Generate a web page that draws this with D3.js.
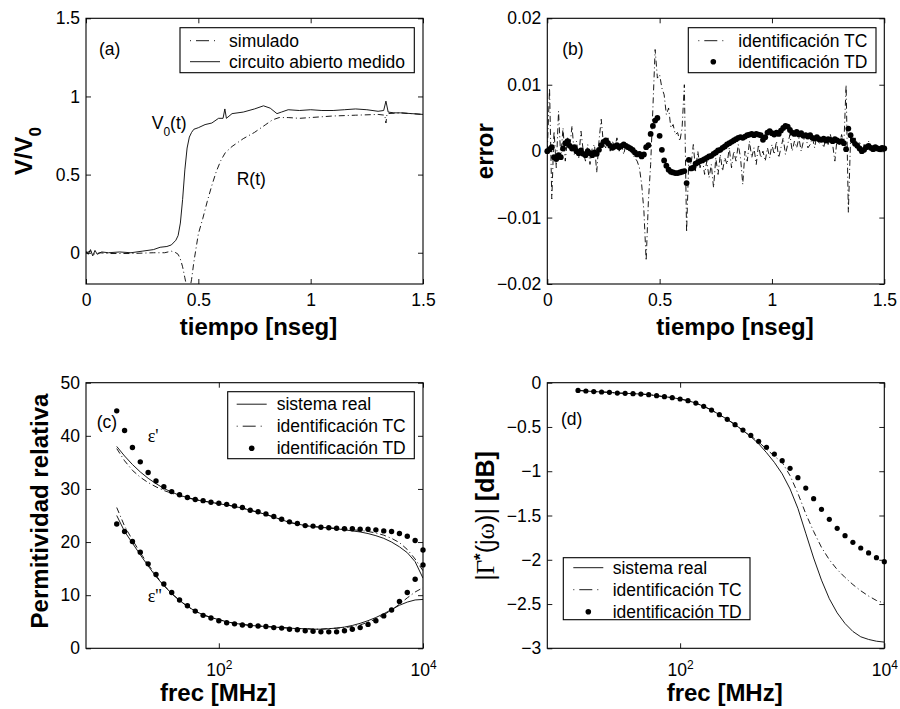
<!DOCTYPE html>
<html>
<head>
<meta charset="utf-8">
<script src="https://cdn.jsdelivr.net/npm/d3@7"></script>
<style>
body { margin: 0; background: #fff; }
</style>
</head>
<body>
<div class="static-image"></div>
<script>
// ---- (a) respuesta temporal ----
var tiempoV = [0, 0.01, 0.02, 0.03, 0.04, 0.05, 0.07, 0.10, 0.15, 0.20, 0.25, 0.30, 0.33, 0.36, 0.38, 0.40, 0.41, 0.42,
    0.43, 0.44, 0.45, 0.46, 0.47, 0.48, 0.50, 0.53, 0.56, 0.59, 0.61, 0.618, 0.625, 0.65, 0.70, 0.75, 0.79, 0.82,
    0.85, 0.87, 0.90, 0.95, 1.00, 1.05, 1.10, 1.15, 1.20, 1.25, 1.30, 1.325, 1.335, 1.345, 1.37, 1.40, 1.45, 1.50];
var v0Medido = [0.01, -0.01, 0.02, -0.02, 0.015, -0.01, 0.005, 0.0, 0.005, 0.0, 0.01, 0.02, 0.035, 0.04, 0.05, 0.08, 0.11, 0.19,
    0.34, 0.53, 0.67, 0.74, 0.77, 0.79, 0.80, 0.82, 0.83, 0.86, 0.86, 0.92, 0.86, 0.89, 0.90, 0.92, 0.94, 0.925,
    0.89, 0.90, 0.915, 0.91, 0.915, 0.91, 0.91, 0.915, 0.92, 0.915, 0.905, 0.91, 0.97, 0.90, 0.895, 0.895, 0.89, 0.885];
var tiempoR = [0, 0.02, 0.04, 0.06, 0.10, 0.20, 0.30, 0.35, 0.38, 0.40, 0.41, 0.42, 0.43, 0.44, 0.45, 0.46, 0.47, 0.48,
    0.49, 0.50, 0.52, 0.54, 0.56, 0.58, 0.60, 0.62, 0.65, 0.70, 0.75, 0.80, 0.83, 0.86, 0.90, 0.95, 1.00, 1.05,
    1.10, 1.20, 1.30, 1.33, 1.335, 1.34, 1.40, 1.50];
var rSimulado = [0.0, 0.01, -0.01, 0.0, -0.005, -0.005, 0.0, 0.0, 0.01, 0.0, -0.01, -0.04, -0.09, -0.16, -0.23, -0.25, -0.17, -0.06,
    0.03, 0.12, 0.22, 0.33, 0.43, 0.52, 0.59, 0.64, 0.68, 0.73, 0.77, 0.82, 0.85, 0.865, 0.865, 0.86, 0.865, 0.87,
    0.875, 0.88, 0.885, 0.88, 0.83, 0.89, 0.895, 0.885];

// ---- (b) error, muestreado cada 0.01 ns ----
var tiempoB = d3.range(151).map(function (i) { return i / 100; });
var errorTC = [0.0000, 0.0095, -0.0072, 0.0030, -0.0025, 0.0060, -0.0010, 0.0035, -0.0015, 0.0020,
    0.0005, 0.0038, -0.0005, 0.0015, -0.0010, 0.0030, 0.0000, -0.0015, 0.0010, -0.0020,
    0.0005, 0.0010, -0.0032, 0.0015, 0.0048, 0.0010, 0.0005, 0.0020, 0.0000, 0.0015,
    0.0005, 0.0020, 0.0000, 0.0012, -0.0005, 0.0010, 0.0005, 0.0000, -0.0005, -0.0010,
    -0.0015, -0.0025, -0.0050, -0.0090, -0.0165, -0.0075, -0.0020, 0.0065, 0.0153, 0.0110,
    0.0115, 0.0095, 0.0085, 0.0055, 0.0065, 0.0035, 0.0040, 0.0025, 0.0028, 0.0015,
    0.0035, 0.0100, -0.0122, -0.0010, -0.0020, 0.0010, -0.0030, 0.0000, -0.0025, -0.0010,
    -0.0035, -0.0015, -0.0040, -0.0020, -0.0055, -0.0010, -0.0035, -0.0005, -0.0030, -0.0010,
    -0.0020, 0.0005, -0.0025, 0.0000, -0.0015, 0.0010, -0.0010, -0.0050, 0.0000, -0.0015,
    0.0015, -0.0010, 0.0005, -0.0020, 0.0010, -0.0010, 0.0000, -0.0015, 0.0005, -0.0010,
    0.0010, -0.0005, 0.0015, -0.0010, 0.0005, 0.0020, -0.0005, 0.0010, 0.0025, 0.0000,
    0.0015, 0.0005, 0.0020, 0.0000, 0.0015, 0.0025, 0.0005, 0.0010, 0.0020, 0.0005,
    0.0025, 0.0010, 0.0020, 0.0005, 0.0020, 0.0010, 0.0025, 0.0010, -0.0015, 0.0020,
    0.0010, 0.0025, 0.0010, 0.0100, -0.0092, 0.0020, 0.0010, 0.0020, 0.0005, 0.0015,
    -0.0005, 0.0010, 0.0000, 0.0015, 0.0005, 0.0010, 0.0000, 0.0005, 0.0005, 0.0000,
    0.0003];
var errorTD = [0.0000, 0.0003, 0.0006, -0.0009, -0.0012, -0.0006, -0.0009, 0.0004, 0.0012, 0.0015,
    0.0008, 0.0004, 0.0006, 0.0000, -0.0003, 0.0001, -0.0004, -0.0006, 0.0000, -0.0003,
    -0.0006, -0.0002, -0.0004, 0.0002, 0.0009, 0.0014, 0.0016, 0.0012, 0.0008, 0.0005,
    0.0007, 0.0009, 0.0006, 0.0008, 0.0010, 0.0008, 0.0006, 0.0004, 0.0002, -0.0002,
    -0.0005, -0.0004, -0.0008, -0.0005, 0.0006, 0.0009, 0.0026, 0.0038, 0.0046, 0.0050,
    0.0023, 0.0002, -0.0014, -0.0022, -0.0028, -0.0031, -0.0032, -0.0033, -0.0033, -0.0032,
    -0.0031, -0.0030, -0.0048, -0.0013, -0.0026, -0.0025, -0.0019, -0.0017, -0.0015, -0.0014,
    -0.0012, -0.0010, -0.0008, -0.0007, -0.0004, -0.0002, 0.0001, 0.0002, 0.0005, 0.0007,
    0.0010, 0.0012, 0.0014, 0.0016, 0.0018, 0.0020, 0.0021, 0.0020, 0.0022, 0.0024,
    0.0025, 0.0026, 0.0024, 0.0026, 0.0025, 0.0024, 0.0017, 0.0021, 0.0028, 0.0030,
    0.0027, 0.0025, 0.0028, 0.0026, 0.0031, 0.0035, 0.0038, 0.0037, 0.0032, 0.0028,
    0.0026, 0.0029, 0.0025, 0.0027, 0.0023, 0.0024, 0.0022, 0.0024, 0.0020, 0.0019,
    0.0021, 0.0018, 0.0017, 0.0019, 0.0016, 0.0018, 0.0017, 0.0015, 0.0018, 0.0016,
    0.0014, 0.0015, 0.0012, 0.0003, 0.0034, 0.0024, 0.0016, 0.0011, 0.0008, 0.0004,
    0.0000, 0.0002, 0.0006, 0.0008, 0.0005, 0.0003, 0.0006, 0.0004, 0.0003, 0.0005,
    0.0004];

// ---- (c) y (d) respuesta en frecuencia ----
var frec = [10, 11.94, 14.25, 17.01, 20.31, 24.25, 28.94, 34.55, 41.25, 49.24, 58.78, 70.17, 83.77,
    100, 119.4, 142.5, 170.1, 203.1, 242.5, 289.4, 345.5, 412.5, 492.4, 587.8, 701.7, 837.7,
    1000, 1194, 1425, 1701, 2031, 2425, 2894, 3455, 4125, 4924, 5878, 7017, 8377, 10000];
var epsRealSistema = [38.0, 36.2, 34.6, 33.2, 32.0, 31.0, 30.1, 29.4, 28.8, 28.4, 28.0, 27.7, 27.5,
    27.2, 27.0, 26.7, 26.4, 26.0, 25.6, 25.2, 24.7, 24.2, 23.7, 23.4, 23.1, 22.9,
    22.8, 22.6, 22.5, 22.3, 22.1, 21.9, 21.6, 21.2, 20.7, 20.0, 19.1, 18.0, 16.3, 13.2];
var epsRealTC = [37.6, 35.3, 33.5, 32.2, 31.2, 30.4, 29.7, 29.2, 28.7, 28.3, 28.0, 27.7, 27.5,
    27.2, 27.0, 26.7, 26.4, 26.0, 25.6, 25.2, 24.7, 24.2, 23.7, 23.4, 23.1, 22.9,
    22.8, 22.7, 22.6, 22.5, 22.3, 22.2, 22.0, 21.7, 21.3, 20.7, 19.9, 18.6, 16.8, 14.6];
var epsRealTD = [44.7, 41.0, 37.8, 35.1, 33.1, 31.5, 30.4, 29.5, 28.9, 28.4, 28.0, 27.8, 27.5,
    27.3, 27.1, 26.8, 26.5, 26.0, 25.7, 25.3, 24.8, 24.3, 23.8, 23.5, 23.1, 23.0,
    22.8, 22.7, 22.6, 22.5, 22.5, 22.4, 22.4, 22.3, 22.1, 22.0, 21.6, 21.1, 20.3, 18.5];
var epsImagSistema = [25.0, 22.0, 19.8, 17.6, 15.5, 13.5, 11.8, 10.3, 9.0, 7.9, 7.0, 6.3, 5.8,
    5.4, 5.0, 4.7, 4.5, 4.3, 4.2, 4.1, 4.0, 3.9, 3.8, 3.7, 3.7, 3.6,
    3.6, 3.7, 3.8, 4.0, 4.3, 4.7, 5.2, 5.8, 6.5, 7.3, 8.1, 8.7, 9.1, 9.2];
var epsImagTC = [26.5, 23.0, 20.4, 18.0, 15.8, 13.7, 11.9, 10.3, 9.0, 7.9, 7.0, 6.3, 5.8,
    5.4, 5.0, 4.7, 4.5, 4.3, 4.2, 4.1, 4.0, 3.9, 3.8, 3.7, 3.7, 3.6,
    3.6, 3.7, 3.8, 3.9, 4.1, 4.4, 4.9, 5.5, 6.3, 7.2, 8.3, 9.5, 10.6, 11.4];
var epsImagTD = [23.4, 22.0, 20.1, 18.1, 15.9, 13.9, 12.1, 10.5, 9.1, 8.0, 7.0, 6.2, 5.7,
    5.2, 4.8, 4.6, 4.4, 4.3, 4.2, 4.1, 3.9, 3.8, 3.6, 3.5, 3.3, 3.2,
    3.1, 3.1, 3.1, 3.3, 3.6, 3.9, 4.5, 5.2, 6.1, 7.2, 8.8, 10.5, 13.0, 15.7];
var gammaSistema = [-0.087, -0.094, -0.100, -0.105, -0.109, -0.117, -0.120, -0.124, -0.128, -0.135, -0.147, -0.158, -0.169,
    -0.184, -0.203, -0.230, -0.267, -0.309, -0.361, -0.414, -0.474, -0.54, -0.61, -0.69, -0.79, -0.90,
    -1.03, -1.20, -1.42, -1.70, -1.98, -2.23, -2.44, -2.60, -2.72, -2.81, -2.87, -2.90, -2.92, -2.93];
var gammaTC = [-0.087, -0.094, -0.100, -0.105, -0.109, -0.117, -0.120, -0.124, -0.128, -0.135, -0.147, -0.158, -0.169,
    -0.184, -0.203, -0.230, -0.267, -0.309, -0.361, -0.414, -0.474, -0.54, -0.60, -0.67, -0.75, -0.83,
    -0.90, -1.05, -1.25, -1.48, -1.68, -1.86, -2.00, -2.11, -2.20, -2.28, -2.35, -2.41, -2.46, -2.49];
var gammaTD = [-0.087, -0.094, -0.100, -0.105, -0.109, -0.117, -0.120, -0.124, -0.128, -0.135, -0.147, -0.158, -0.169,
    -0.184, -0.203, -0.230, -0.267, -0.309, -0.361, -0.414, -0.474, -0.535, -0.595, -0.662, -0.730, -0.806,
    -0.881, -0.967, -1.073, -1.190, -1.310, -1.430, -1.543, -1.645, -1.728, -1.803, -1.867, -1.923, -1.976, -2.021];

// ticks
var ticksTiempo = [0, 0.5, 1, 1.5];
var ticksV = [0, 0.5, 1, 1.5];
var ticksError = [-0.02, -0.01, 0, 0.01, 0.02];
var ticksFrec = [100, 10000];
var ticksEps = [0, 10, 20, 30, 40, 50];
var ticksGamma = [0, -0.5, -1, -1.5, -2, -2.5, -3];

var sans = "'Liberation Sans', Arial, Helvetica, sans-serif";
var serif = "'Liberation Serif', 'Times New Roman', serif";
var dashDot = "6,3,1,3";

var svg = d3.select(".static-image")
    .append("svg")
    .attr("width", 900)
    .attr("height", 709)
    .style("background", "#fff");

var boxA = {left: 86, right: 423, top: 18.3, bottom: 284};
var boxB = {left: 547.3, right: 884.3, top: 18.3, bottom: 284};
var boxC = {left: 86, right: 423, top: 382.7, bottom: 648.3};
var boxD = {left: 547.3, right: 884.3, top: 382.7, bottom: 648.3};

var xA = d3.scaleLinear().domain([0, 1.5]).range([boxA.left, boxA.right]);
var yA = d3.scaleLinear().domain([-0.2, 1.5]).range([boxA.bottom, boxA.top]);
var xB = d3.scaleLinear().domain([0, 1.5]).range([boxB.left, boxB.right]);
var yB = d3.scaleLinear().domain([-0.02, 0.02]).range([boxB.bottom, boxB.top]);
var xC = d3.scaleLog().domain([5, 10000]).range([boxC.left, boxC.right]);
var yC = d3.scaleLinear().domain([0, 50]).range([boxC.bottom, boxC.top]);
var xD = d3.scaleLog().domain([5, 10000]).range([boxD.left, boxD.right]);
var yD = d3.scaleLinear().domain([-3, 0]).range([boxD.bottom, boxD.top]);

addAxes(boxA, xA, yA, ticksTiempo, ticksV, false, "clipA");
addAxes(boxB, xB, yB, ticksTiempo, ticksError, false, "clipB");
addAxes(boxC, xC, yC, ticksFrec, ticksEps, true, "clipC");
addAxes(boxD, xD, yD, ticksFrec, ticksGamma, true, "clipD");

// curvas (a)
drawLine(xA, yA, tiempoR, rSimulado, dashDot, "clipA");
drawLine(xA, yA, tiempoV, v0Medido, null, "clipA");
// curvas (b)
drawLine(xB, yB, tiempoB, errorTC, dashDot, "clipB");
drawDots(xB, yB, tiempoB, errorTD, 2.9);
// curvas (c)
drawLine(xC, yC, frec, epsRealSistema, null, "clipC");
drawLine(xC, yC, frec, epsRealTC, dashDot, "clipC");
drawLine(xC, yC, frec, epsImagSistema, null, "clipC");
drawLine(xC, yC, frec, epsImagTC, dashDot, "clipC");
drawDots(xC, yC, frec, epsRealTD, 2.7);
drawDots(xC, yC, frec, epsImagTD, 2.7);
// curvas (d)
drawLine(xD, yD, frec, gammaSistema, null, "clipD");
drawLine(xD, yD, frec, gammaTC, dashDot, "clipD");
drawDots(xD, yD, frec, gammaTD, 2.6);

// leyendas
addLegend(180, 27.7, 234.3, [
    {type: "dashdot", label: "simulado"},
    {type: "line", label: "circuito abierto medido"}
], 21, 13, 10, 49);
addLegend(688.3, 27.7, 187.7, [
    {type: "dashdot", label: "identificación TC"},
    {type: "dot", label: "identificación TD"}
], 21, 13, 10, 50);
addLegend(227.7, 391.7, 186.6, [
    {type: "line", label: "sistema real"},
    {type: "dashdot", label: "identificación TC"},
    {type: "dot", label: "identificación TD"}
], 22, 12.5, 9, 49);
addLegend(563.3, 557.7, 186.7, [
    {type: "line", label: "sistema real"},
    {type: "dashdot", label: "identificación TC"},
    {type: "dot", label: "identificación TD"}
], 22, 10, 10, 49.4);

// anotaciones
addText(99, 55, "(a)");
addText(562.3, 55, "(b)");
addText(96.7, 428.3, "(c)");
addText(561, 425, "(d)");

var v0 = svg.append("text").attr("x", 151.7).attr("y", 128.5)
    .attr("font-family", sans).attr("font-size", 17.5);
v0.append("tspan").text("V");
v0.append("tspan").attr("dy", 7).attr("font-size", 12).text("0");
v0.append("tspan").attr("dy", -7).text("(t)");
addText(236.7, 185, "R(t)");

svg.append("text").attr("x", 147.7).attr("y", 441.7)
    .attr("font-family", serif).attr("font-size", 18).text("ε'");
svg.append("text").attr("x", 147.7).attr("y", 601.7)
    .attr("font-family", serif).attr("font-size", 18).text("ε''");

// titulos de ejes
addXLabel(258.5, 335, "tiempo [nseg]");
addXLabel(735, 335, "tiempo [nseg]");
addXLabel(218, 700.5, "frec [MHz]");
addXLabel(724.7, 700.5, "frec [MHz]");

var lv = svg.append("text")
    .attr("transform", "translate(32," + (boxA.top + boxA.bottom) / 2 + ") rotate(-90)")
    .attr("text-anchor", "middle")
    .attr("font-family", sans).attr("font-size", 24).attr("font-weight", "bold");
lv.append("tspan").text("V/V");
lv.append("tspan").attr("dy", 9).attr("font-size", 17).text("0");

svg.append("text")
    .attr("transform", "translate(493," + (boxB.top + boxB.bottom) / 2 + ") rotate(-90)")
    .attr("text-anchor", "middle")
    .attr("font-family", sans).attr("font-size", 24).attr("font-weight", "bold")
    .text("error");

svg.append("text")
    .attr("transform", "translate(48,511) rotate(-90)")
    .attr("text-anchor", "middle")
    .attr("font-family", sans).attr("font-size", 24).attr("font-weight", "bold")
    .text("Permitividad relativa");

var lg = svg.append("text")
    .attr("transform", "translate(494,516) rotate(-90)")
    .attr("text-anchor", "middle")
    .attr("font-family", sans).attr("font-size", 25);
lg.append("tspan").text("|");
lg.append("tspan").attr("font-family", serif).text("Γ");
lg.append("tspan").attr("dy", -8).attr("font-size", 17).attr("font-weight", "bold").text("*");
lg.append("tspan").attr("dy", 8).text("(j");
lg.append("tspan").attr("font-family", serif).text("ω");
lg.append("tspan").text(")|");
lg.append("tspan").attr("font-weight", "bold").text(" [dB]");

function addAxes(box, x, y, xTicks, yTicks, logX, clipId) {
    svg.append("clipPath")
        .attr("id", clipId)
        .append("rect")
        .attr("x", box.left)
        .attr("y", box.top)
        .attr("width", box.right - box.left)
        .attr("height", box.bottom - box.top);

    var g = svg.append("g");
    var fmt = d3.format("");

    var bottom = g.append("g")
        .attr("transform", "translate(0," + box.bottom + ")")
        .call(d3.axisBottom(x).tickValues(xTicks).tickSizeInner(-5).tickSizeOuter(0)
            .tickPadding(logX ? 15 : 10)
            .tickFormat(logX ? function () { return ""; } : fmt));
    if (logX) {
        bottom.selectAll(".tick text").each(function (d) {
            var t = d3.select(this);
            t.append("tspan").text("10");
            t.append("tspan").attr("dy", -7).attr("font-size", 12).text(Math.round(Math.log10(d)));
        });
    }
    g.append("g")
        .attr("transform", "translate(0," + box.top + ")")
        .call(d3.axisTop(x).tickValues(xTicks).tickSizeInner(-5).tickSizeOuter(0).tickFormat(""));
    g.append("g")
        .attr("transform", "translate(" + box.left + ",0)")
        .call(d3.axisLeft(y).tickValues(yTicks).tickSizeInner(-5).tickSizeOuter(0).tickPadding(6).tickFormat(fmt));
    g.append("g")
        .attr("transform", "translate(" + box.right + ",0)")
        .call(d3.axisRight(y).tickValues(yTicks).tickSizeInner(-5).tickSizeOuter(0).tickFormat(""));

    // el eje pone font-size 10 en cada grupo: se reemplaza aqui
    g.selectAll("g")
        .attr("font-size", 17.5)
        .attr("font-family", sans);
    g.selectAll(".domain").remove();
    g.selectAll(".tick line").attr("stroke", "#000").attr("stroke-width", 0.9);
    g.selectAll(".tick text").attr("fill", "#000");

    svg.append("rect")
        .attr("x", box.left)
        .attr("y", box.top)
        .attr("width", box.right - box.left)
        .attr("height", box.bottom - box.top)
        .attr("fill", "none")
        .attr("stroke", "#000")
        .attr("stroke-width", 1.1);
}

function drawLine(x, y, xs, ys, dash, clipId) {
    var line = d3.line()
        .x(function (d, i) { return x(xs[i]); })
        .y(function (d) { return y(d); });
    svg.append("path")
        .datum(ys)
        .attr("d", line)
        .attr("clip-path", "url(#" + clipId + ")")
        .attr("fill", "none")
        .attr("stroke", "#000")
        .attr("stroke-width", 0.9)
        .attr("stroke-dasharray", dash);
}

function drawDots(x, y, xs, ys, r) {
    svg.append("g")
        .selectAll("circle")
        .data(ys)
        .enter()
        .append("circle")
        .attr("cx", function (d, i) { return x(xs[i]); })
        .attr("cy", function (d) { return y(d); })
        .attr("r", r)
        .attr("fill", "#000");
}

function addLegend(left, top, w, rows, step, first, sampleOff, textOff) {
    var g = svg.append("g");
    g.append("rect")
        .attr("x", left)
        .attr("y", top)
        .attr("width", w)
        .attr("height", first + step * (rows.length - 1) + (first - 2))
        .attr("fill", "#fff")
        .attr("stroke", "#000")
        .attr("stroke-width", 1.1);
    rows.forEach(function (row, i) {
        var cy = top + first + step * i;
        if (row.type === "dot") {
            g.append("circle").attr("cx", left + sampleOff + 15).attr("cy", cy).attr("r", 2.8).attr("fill", "#000");
        } else {
            g.append("line")
                .attr("x1", left + sampleOff).attr("x2", left + sampleOff + 30)
                .attr("y1", cy).attr("y2", cy)
                .attr("stroke", "#000").attr("stroke-width", 0.9)
                .attr("stroke-dasharray", row.type === "dashdot" ? "1,5,13,5" : null);
        }
        g.append("text")
            .attr("x", left + textOff)
            .attr("y", cy + 6)
            .attr("font-family", sans)
            .attr("font-size", 17.5)
            .text(row.label);
    });
}

function addText(x, y, s) {
    svg.append("text").attr("x", x).attr("y", y)
        .attr("font-family", sans).attr("font-size", 17.5).text(s);
}

function addXLabel(x, y, s) {
    svg.append("text").attr("x", x).attr("y", y)
        .attr("text-anchor", "middle")
        .attr("font-family", sans).attr("font-size", 24).attr("font-weight", "bold")
        .text(s);
}
</script>
</body>
</html>
